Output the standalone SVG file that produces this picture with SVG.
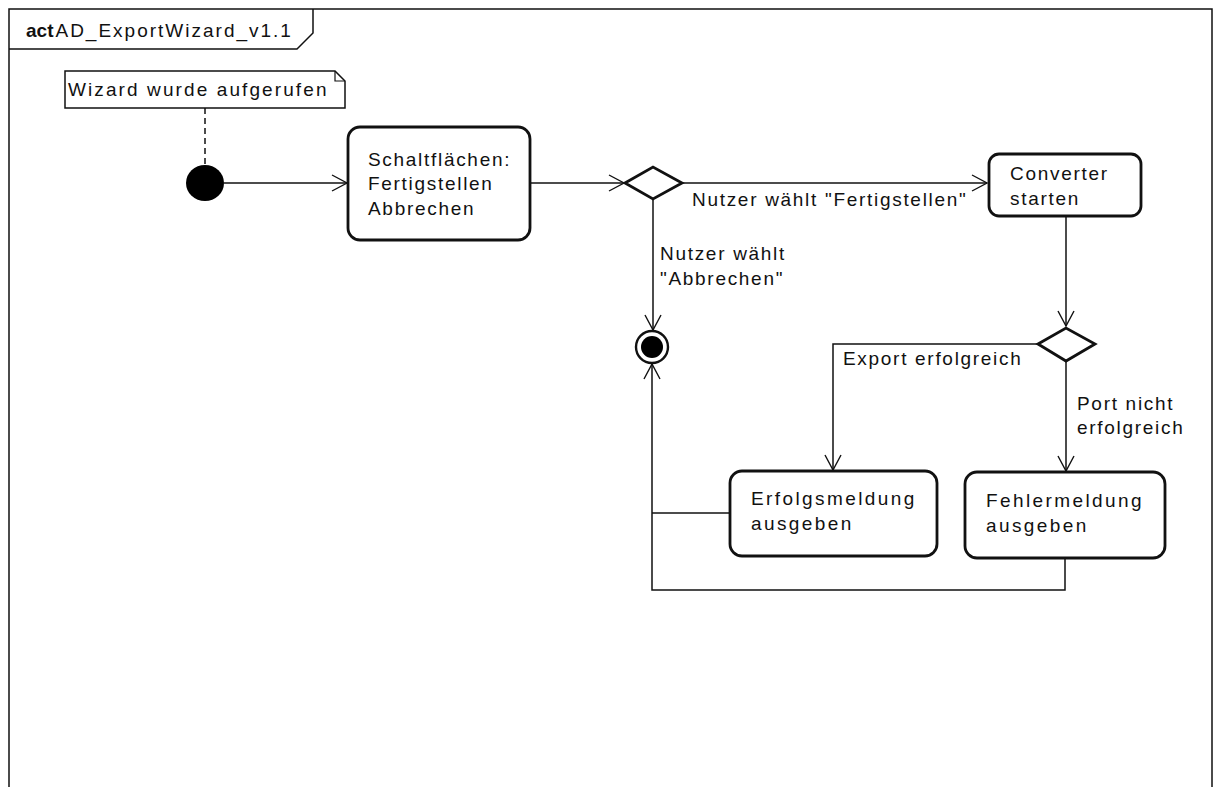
<svg xmlns="http://www.w3.org/2000/svg" width="1219" height="787" viewBox="0 0 1219 787">
<style>
text{font-family:"Liberation Sans",Arial,sans-serif;font-size:19px;fill:#111;letter-spacing:1.7px}
.wide{letter-spacing:2.4px}
.box{fill:#fff;stroke:#111;stroke-width:2.8}
.ln{fill:none;stroke:#111;stroke-width:1.5}
.frame{fill:none;stroke:#111;stroke-width:1.5}
</style>
<defs>
<marker id="arr" markerUnits="userSpaceOnUse" markerWidth="20" markerHeight="20" refX="16" refY="9" orient="auto">
<path d="M1,1 L16,9 L1,17" fill="none" stroke="#111" stroke-width="1.4"/>
</marker>
</defs>
<rect x="0" y="0" width="1219" height="787" fill="#fff"/>
<g id="frame">
<path class="frame" d="M9,800 L9,9 L1212,9 L1212,800"/>
<path class="frame" d="M9,49 L297,49 L313,33 L313,9"/>
<text x="26" y="37" style="letter-spacing:2px"><tspan font-weight="bold" letter-spacing="0">act</tspan><tspan dx="2">AD_ExportWizard_v1.1</tspan></text>
</g>
<g id="note">
<path d="M65,71 L335,71 L345,81 L345,108 L65,108 Z" fill="#fff" stroke="#111" stroke-width="1.5"/>
<path d="M335,71 L335,81 L345,81" fill="none" stroke="#111" stroke-width="1.2"/>
<text x="68" y="96" style="letter-spacing:2.1px">Wizard wurde aufgerufen</text>
</g>
<g id="connectors">
<line x1="205" y1="108" x2="205" y2="166" stroke="#111" stroke-width="1.5" stroke-dasharray="6,4"/>
<line class="ln" x1="224" y1="183" x2="347" y2="183" marker-end="url(#arr)"/>
<line class="ln" x1="530" y1="183" x2="624" y2="183" marker-end="url(#arr)"/>
<line class="ln" x1="683" y1="183" x2="987" y2="183" marker-end="url(#arr)"/>
<line class="ln" x1="653" y1="199" x2="653" y2="330" marker-end="url(#arr)"/>
<line class="ln" x1="1066" y1="217" x2="1066" y2="326" marker-end="url(#arr)"/>
<path class="ln" d="M1038,344 L833,344 L833,470" marker-end="url(#arr)"/>
<line class="ln" x1="1066" y1="361" x2="1066" y2="471" marker-end="url(#arr)"/>
<path class="ln" d="M730,513 L652,513"/>
<path class="ln" d="M1065,558 L1065,590 L652,590 L652,364" marker-end="url(#arr)"/>
<text x="692" y="206">Nutzer wählt "Fertigstellen"</text>
<text x="660" y="260">Nutzer wählt</text>
<text x="660" y="285">"Abbrechen"</text>
<text x="843" y="365">Export erfolgreich</text>
<text x="1077" y="410">Port nicht</text>
<text x="1077" y="434">erfolgreich</text>
</g>
<g id="start">
<ellipse cx="205" cy="183" rx="19" ry="18" fill="#000"/>
</g>
<g id="schaltflaechen">
<rect class="box" x="348" y="127" width="182" height="113" rx="12"/>
<text x="368" y="166">Schaltflächen:</text>
<text x="368" y="190">Fertigstellen</text>
<text x="368" y="215">Abbrechen</text>
</g>
<g id="decision1">
<path d="M625,183 L653,167 L682,183 L653,199 Z" fill="#fff" stroke="#111" stroke-width="2.8"/>
</g>
<g id="converter">
<rect class="box" x="989" y="154" width="152" height="62" rx="10"/>
<text x="1010" y="180">Converter</text>
<text x="1010" y="205">starten</text>
</g>
<g id="decision2">
<path d="M1038,344 L1066,328 L1095,344 L1066,361 Z" fill="#fff" stroke="#111" stroke-width="2.8"/>
</g>
<g id="final">
<circle cx="652" cy="347" r="16" fill="#fff" stroke="#111" stroke-width="2.4"/>
<circle cx="652" cy="347" r="11" fill="#000"/>
</g>
<g id="erfolgsmeldung">
<rect class="box" x="730" y="471" width="207" height="85" rx="12"/>
<text class="wide" x="751" y="505">Erfolgsmeldung</text>
<text class="wide" x="751" y="530">ausgeben</text>
</g>
<g id="fehlermeldung">
<rect class="box" x="965" y="472" width="200" height="86" rx="12"/>
<text class="wide" x="986" y="507">Fehlermeldung</text>
<text class="wide" x="986" y="532">ausgeben</text>
</g>
</svg>
